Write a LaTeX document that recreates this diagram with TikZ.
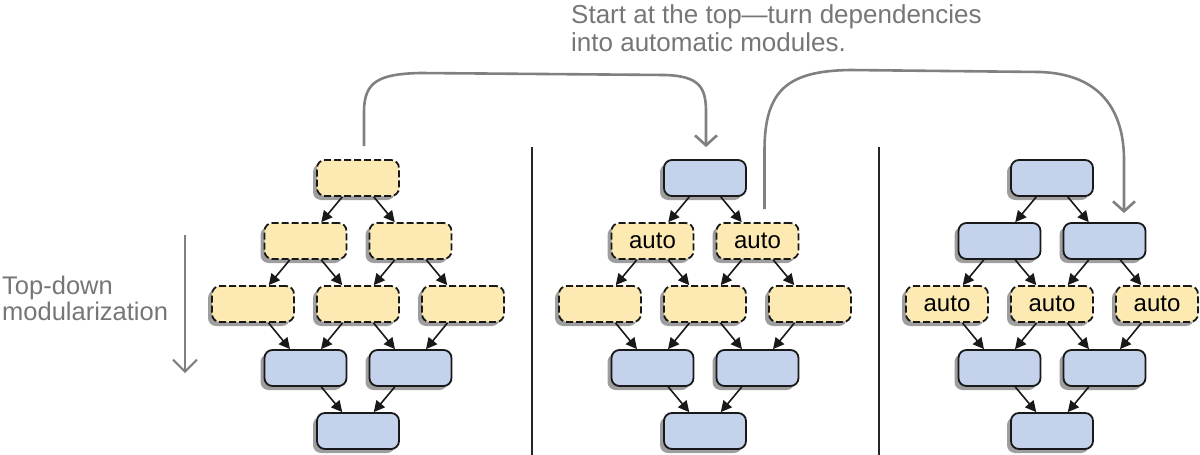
\documentclass[tikz,border=0pt]{standalone}
\usepackage{fontspec}
\setmainfont{Liberation Sans}
\usetikzlibrary{shadows,arrows.meta}
\definecolor{yfill}{RGB}{252,234,178}
\definecolor{bfill}{RGB}{196,210,236}
\definecolor{note}{RGB}{118,118,118}
\definecolor{flowc}{RGB}{128,128,128}
\begin{document}
\begin{tikzpicture}[x=1pt,y=-1pt,
  mod/.style={rounded corners=8pt, minimum width=82pt, minimum height=36pt,
    inner sep=0pt, line width=1.8pt, draw=black!90,
    font=\fontsize{24}{28}\selectfont,
    drop shadow={shadow xshift=-4pt, shadow yshift=-4pt, fill=black!38, opacity=1}},
  ymod/.style={mod, fill=yfill, dash pattern=on 7pt off 3pt},
  bmod/.style={mod, fill=bfill},
  dep/.style={line width=1.6pt, draw=black!90, -{Triangle[length=11pt,width=11pt]}},
  flow/.style={draw=flowc, line width=2.6pt, -{Straight Barb[length=10pt,width=22pt]}},
  sep/.style={line width=1.5pt, draw=black!85},
  note/.style={text=note, align=left, anchor=base west, inner sep=0pt}
]
\useasboundingbox (0,0) rectangle (1200,455);

% separators
\draw[sep] (532,147) -- (532,455);
\draw[sep] (879,147) -- (879,455);

% panel A
\node[ymod] (a1)  at (358,178) {};
\node[ymod] (a2l) at (305.5,241) {};
\node[ymod] (a2r) at (410.5,241) {};
\node[ymod] (a3l) at (253,304) {};
\node[ymod] (a3m) at (358,304) {};
\node[ymod] (a3r) at (463,304) {};
\node[bmod] (a4l) at (305.5,368) {};
\node[bmod] (a4r) at (410.5,368) {};
\node[bmod] (a5)  at (358,431) {};

% panel B
\node[bmod] (b1)  at (705,178) {};
\node[ymod] (b2l) at (652.5,241) {auto};
\node[ymod] (b2r) at (757.5,241) {auto};
\node[ymod] (b3l) at (600,304) {};
\node[ymod] (b3m) at (705,304) {};
\node[ymod] (b3r) at (810,304) {};
\node[bmod] (b4l) at (652.5,368) {};
\node[bmod] (b4r) at (757.5,368) {};
\node[bmod] (b5)  at (705,431) {};

% panel C
\node[bmod] (c1)  at (1052,178) {};
\node[bmod] (c2l) at (999.5,241) {};
\node[bmod] (c2r) at (1104.5,241) {};
\node[ymod] (c3l) at (947,304) {auto};
\node[ymod] (c3m) at (1052,304) {auto};
\node[ymod] (c3r) at (1157,304) {auto};
\node[bmod] (c4l) at (999.5,368) {};
\node[bmod] (c4r) at (1104.5,368) {};
\node[bmod] (c5)  at (1052,431) {};

\foreach \p in {a,b,c}{
  \draw[dep] (\p1) -- (\p2l);
  \draw[dep] (\p1) -- (\p2r);
  \draw[dep] (\p2l) -- (\p3l);
  \draw[dep] (\p2l) -- (\p3m);
  \draw[dep] (\p2r) -- (\p3m);
  \draw[dep] (\p2r) -- (\p3r);
  \draw[dep] (\p3l) -- (\p4l);
  \draw[dep] (\p3m) -- (\p4l);
  \draw[dep] (\p3m) -- (\p4r);
  \draw[dep] (\p3r) -- (\p4r);
  \draw[dep] (\p4l) -- (\p5);
  \draw[dep] (\p4r) -- (\p5);
}

% texts (anchor = baseline of last line)
\node[note, font=\fontsize{26}{28}\selectfont] (title) at (571,51)
  {Start at the top---turn dependencies\\into automatic modules.};
\node[note, font=\fontsize{25.5}{26}\selectfont] (side) at (2,320)
  {Top-down\\modularization};

% curved flow arrows
\coordinate (s1) at ([xshift=6pt,yshift=13pt]a1.north);
\coordinate (e1) at ([xshift=1pt,yshift=12pt]b1.north);
\coordinate (s2) at ([xshift=7pt,yshift=13pt]b2r.north);
\coordinate (e2) at ([xshift=19.5pt,yshift=9pt]c2r.north);
\draw[flow] (s1) -- (364,112) .. controls (364,82) and (378,74) .. (420,73)
  -- (665,75) .. controls (700,76) and (706,88) .. (706,112) -- (e1);
\draw[flow] (s2) -- (764.5,150) .. controls (764.5,88) and (790,71) .. (850,70)
  -- (1040,72) .. controls (1100,74) and (1124,110) .. (1124,160) -- (e2);

% side arrow
\coordinate (d1) at (185,235);
\coordinate (d2) at (185,373);
\draw[flow, line width=2pt, -{Straight Barb[length=12pt,width=24pt]}] (d1) -- (d2);
\end{tikzpicture}
\end{document}
